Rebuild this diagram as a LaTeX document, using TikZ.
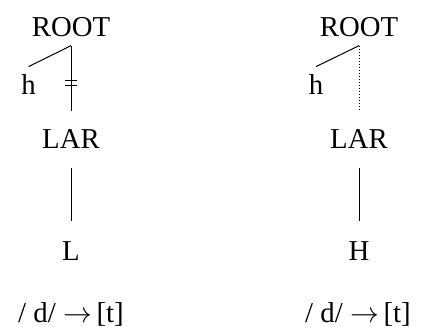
\documentclass[tikz,border=0pt]{standalone}
\usepackage{fontspec}
\setmainfont{Liberation Serif}
\usetikzlibrary{positioning}

\begin{document}
\begin{tikzpicture}[
    x=0.5pt, y=-0.5pt,
    feat/.style={inner sep=4pt, anchor=base, font=\fontsize{14.4}{17}\selectfont},
    link/.style={line width=0.5pt},
    delinked/.style={link, dash pattern=on 0.5pt off 1pt}
]
    \useasboundingbox (0,0) rectangle (422,326);

    % Left tree
    \node[feat] (rootL) at (71,37) {ROOT};
    \node[feat] (hL) at (28.5,95) {h};
    \node[feat] (larL) at (71,148) {LAR};
    \node[feat] (toneL) at (71,260) {L};
    \node[feat] (ruleL) at (71,322) {/ d/ $\rightarrow$\,[t]};

    % Right tree
    \node[feat] (rootR) at (359,37) {ROOT};
    \node[feat] (hR) at (316,95) {h};
    \node[feat] (larR) at (359,148) {LAR};
    \node[feat] (toneR) at (359,260) {H};
    \node[feat] (ruleR) at (358,322) {/ d/ $\rightarrow$\,[t]};

    % Association lines
    \draw[link] (rootL.south) -- (hL.north);
    \draw[link, shorten >=5pt] (rootL.south) -- coordinate[midway] (cutL) (larL.north);
    \draw[link, shorten <=6pt, shorten >=6pt] (larL.south) -- (toneL.north);
    \draw[link] ([shift={(-6,-2.5)}]cutL) -- ++(12,0)
                ([shift={(-6,2.5)}]cutL) -- ++(12,0);

    \draw[link] (rootR.south) -- (hR.north);
    \draw[delinked, shorten >=5pt] (rootR.south) -- (larR.north);
    \draw[link, shorten <=6pt, shorten >=6pt] (larR.south) -- (toneR.north);
\end{tikzpicture}
\end{document}
